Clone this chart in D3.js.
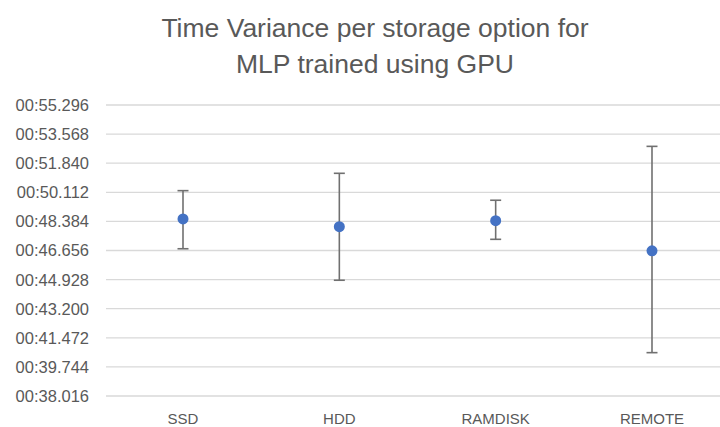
<!DOCTYPE html>
<html>
<head>
<meta charset="utf-8">
<script src="https://cdn.jsdelivr.net/npm/d3@7"></script>
<style>
  body { margin: 0; background: #fff; }
  svg { display: block; }
  text { font-family: "Liberation Sans", Arial, sans-serif; fill: #595959; }
</style>
</head>
<body>
<div id="chart"></div>
<script>
// storage options and times (seconds past 00:00)
const categories = ["SSD", "HDD", "RAMDISK", "REMOTE"];
const meanTime = [48.53, 48.07, 48.43, 46.64];
const upperTime = [50.21, 51.24, 49.64, 52.84];
const lowerTime = [46.76, 44.89, 47.32, 40.59];
const yTicks = [38.016, 39.744, 41.472, 43.2, 44.928, 46.656, 48.384, 50.112, 51.84, 53.568, 55.296];

const width = 720, height = 427;

let svg = d3.select("#chart").append("svg")
    .attr("width", width)
    .attr("height", height);

let x = d3.scalePoint()
    .domain(categories)
    .range([183, 652]);

let y = d3.scaleLinear()
    .domain([38.016, 55.296])
    .range([396, 105]);

// title
let title = svg.append("text")
    .attr("text-anchor", "middle")
    .style("font-size", "26.5px");
title.append("tspan").attr("x", 375).attr("y", 37).text("Time Variance per storage option for");
title.append("tspan").attr("x", 375).attr("y", 73).text("MLP trained using GPU");

// gridlines
svg.append("g")
    .selectAll("line")
    .data(yTicks)
    .join("line")
    .attr("x1", 106)
    .attr("x2", 731)
    .attr("y1", d => y(d))
    .attr("y2", d => y(d))
    .attr("stroke", "#d9d9d9")
    .attr("stroke-width", 1.3);

let fmt = function(v){
    let s = v.toFixed(3);
    if (v < 10) s = "0" + s;
    return "00:" + s;
};

// y axis labels
svg.append("g")
    .selectAll("text")
    .data(yTicks)
    .join("text")
    .attr("x", 89)
    .attr("y", d => y(d))
    .attr("dy", "0.36em")
    .attr("text-anchor", "end")
    .style("font-size", "16.5px")
    .text(d => fmt(d));

// x axis labels
svg.append("g")
    .selectAll("text")
    .data(categories)
    .join("text")
    .attr("x", d => x(d))
    .attr("y", 424)
    .attr("text-anchor", "middle")
    .style("font-size", "15px")
    .text(d => d);

// error bars
let rows = categories.map((c, i) => ({ cat: c, mean: meanTime[i], hi: upperTime[i], lo: lowerTime[i] }));

let bars = svg.append("g")
    .attr("stroke", "#707070")
    .attr("stroke-width", 1.6);

bars.selectAll(".stem")
    .data(rows)
    .join("line")
    .attr("class", "stem")
    .attr("x1", d => x(d.cat))
    .attr("x2", d => x(d.cat))
    .attr("y1", d => y(d.hi))
    .attr("y2", d => y(d.lo));

bars.selectAll(".capHi")
    .data(rows)
    .join("line")
    .attr("class", "capHi")
    .attr("x1", d => x(d.cat) - 5.5)
    .attr("x2", d => x(d.cat) + 5.5)
    .attr("y1", d => y(d.hi))
    .attr("y2", d => y(d.hi));

bars.selectAll(".capLo")
    .data(rows)
    .join("line")
    .attr("class", "capLo")
    .attr("x1", d => x(d.cat) - 5.5)
    .attr("x2", d => x(d.cat) + 5.5)
    .attr("y1", d => y(d.lo))
    .attr("y2", d => y(d.lo));

// points
svg.append("g")
    .selectAll("circle")
    .data(rows)
    .join("circle")
    .attr("cx", d => x(d.cat))
    .attr("cy", d => y(d.mean))
    .attr("r", 5.5)
    .attr("fill", "#4472c4");
</script>
</body>
</html>
